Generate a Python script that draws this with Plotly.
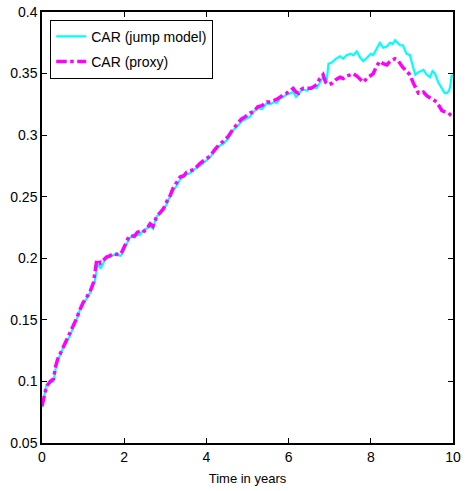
import plotly.graph_objects as go

t_jump = [0.00, 0.05, 0.11, 0.20, 0.28, 0.33, 0.38, 0.45, 0.52, 0.60, 0.68, 0.76, 0.84, 0.92, 1.00,
          1.08, 1.17, 1.25, 1.29, 1.33, 1.37, 1.42, 1.45, 1.52, 1.57, 1.65, 1.75, 1.82, 1.90, 1.94,
          2.00, 2.06, 2.12, 2.18, 2.25, 2.32, 2.38, 2.45, 2.55, 2.63, 2.70, 2.79, 2.87, 2.95, 3.05,
          3.12, 3.19, 3.28, 3.36, 3.45, 3.52, 3.60, 3.70, 3.84, 3.95, 4.09, 4.20, 4.30, 4.41, 4.53,
          4.65, 4.75, 4.85, 4.95, 5.06, 5.15, 5.25, 5.35, 5.47, 5.55, 5.65, 5.71, 5.80, 5.87, 5.95,
          6.05, 6.11, 6.18, 6.24, 6.30, 6.36, 6.45, 6.55, 6.68, 6.76, 6.84, 6.90, 6.93, 6.97, 7.05,
          7.15, 7.25, 7.33, 7.41, 7.50, 7.58, 7.66, 7.74, 7.82, 7.90, 8.00, 8.06, 8.14, 8.22, 8.30,
          8.39, 8.47, 8.53, 8.59, 8.65, 8.71, 8.78, 8.87, 8.95, 9.00, 9.08, 9.15, 9.22, 9.28, 9.36,
          9.44, 9.50, 9.56, 9.64, 9.70, 9.76, 9.80, 9.85, 9.90, 9.93, 9.97, 10.00]
car_jump = [0.079, 0.088, 0.097, 0.099, 0.100, 0.110, 0.117, 0.122, 0.128, 0.132, 0.137, 0.144, 0.150, 0.158, 0.163,
            0.167, 0.172, 0.178, 0.182, 0.192, 0.195, 0.192, 0.193, 0.198, 0.200, 0.201, 0.203, 0.204, 0.202, 0.203,
            0.207, 0.211, 0.216, 0.218, 0.217, 0.219, 0.219, 0.222, 0.224, 0.226, 0.224, 0.234, 0.236, 0.239, 0.245,
            0.251, 0.255, 0.259, 0.264, 0.266, 0.268, 0.269, 0.272, 0.275, 0.278, 0.282, 0.287, 0.291, 0.293, 0.297,
            0.304, 0.307, 0.311, 0.313, 0.315, 0.319, 0.322, 0.321, 0.326, 0.325, 0.327, 0.326, 0.330, 0.331, 0.333,
            0.334, 0.335, 0.331, 0.333, 0.336, 0.337, 0.336, 0.339, 0.338, 0.343, 0.347, 0.344, 0.345, 0.358, 0.359,
            0.362, 0.364, 0.362, 0.365, 0.366, 0.365, 0.368, 0.363, 0.360, 0.363, 0.366, 0.365, 0.370, 0.375, 0.371,
            0.372, 0.375, 0.374, 0.377, 0.375, 0.373, 0.373, 0.366, 0.365, 0.358, 0.349, 0.351, 0.352, 0.353, 0.349,
            0.347, 0.352, 0.350, 0.343, 0.340, 0.337, 0.334, 0.334, 0.336, 0.339, 0.349, 0.347]

t_proxy = [0.00, 0.05, 0.11, 0.20, 0.28, 0.33, 0.38, 0.45, 0.52, 0.60, 0.68, 0.76, 0.84, 0.92, 1.00,
           1.08, 1.17, 1.25, 1.29, 1.33, 1.37, 1.42, 1.45, 1.52, 1.57, 1.65, 1.75, 1.82, 1.90, 1.94,
           2.00, 2.06, 2.12, 2.18, 2.25, 2.32, 2.38, 2.45, 2.55, 2.63, 2.70, 2.79, 2.87, 2.95, 3.05,
           3.12, 3.19, 3.28, 3.36, 3.45, 3.52, 3.60, 3.70, 3.84, 3.95, 4.09, 4.20, 4.30, 4.41, 4.53,
           4.65, 4.75, 4.85, 4.95, 5.06, 5.15, 5.25, 5.35, 5.47, 5.55, 5.65, 5.71, 5.80, 5.87, 5.95,
           6.05, 6.11, 6.18, 6.24, 6.30, 6.36, 6.45, 6.55, 6.68, 6.76, 6.84, 6.90, 6.97, 7.05, 7.15,
           7.25, 7.33, 7.41, 7.50, 7.57, 7.66, 7.74, 7.82, 7.90, 8.00, 8.06, 8.14, 8.22, 8.30, 8.39,
           8.47, 8.53, 8.59, 8.65, 8.71, 8.78, 8.87, 8.95, 9.04, 9.10, 9.16, 9.22, 9.28, 9.36, 9.44,
           9.50, 9.60, 9.66, 9.73, 9.80, 9.89, 9.95, 10.00]
car_proxy = [0.080, 0.088, 0.096, 0.100, 0.102, 0.112, 0.118, 0.123, 0.128, 0.133, 0.138, 0.145, 0.151, 0.158, 0.164,
             0.168, 0.173, 0.180, 0.190, 0.198, 0.199, 0.196, 0.197, 0.200, 0.201, 0.202, 0.204, 0.203, 0.203, 0.205,
             0.209, 0.214, 0.218, 0.218, 0.218, 0.221, 0.222, 0.221, 0.224, 0.228, 0.226, 0.234, 0.237, 0.240, 0.247,
             0.251, 0.257, 0.262, 0.266, 0.267, 0.270, 0.271, 0.272, 0.277, 0.280, 0.283, 0.288, 0.292, 0.295, 0.299,
             0.305, 0.309, 0.313, 0.315, 0.318, 0.319, 0.323, 0.324, 0.327, 0.327, 0.328, 0.329, 0.331, 0.333, 0.334,
             0.336, 0.338, 0.335, 0.334, 0.337, 0.338, 0.338, 0.338, 0.341, 0.346, 0.349, 0.343, 0.341, 0.342, 0.345,
             0.347, 0.346, 0.348, 0.349, 0.350, 0.348, 0.345, 0.343, 0.346, 0.349, 0.350, 0.356, 0.360, 0.358, 0.357,
             0.360, 0.361, 0.362, 0.361, 0.358, 0.355, 0.352, 0.349, 0.342, 0.338, 0.334, 0.334, 0.335, 0.332, 0.330,
             0.329, 0.327, 0.324, 0.320, 0.319, 0.318, 0.316, 0.315]

x_ticks = [0, 2, 4, 6, 8, 10]
y_ticks = [0.05, 0.1, 0.15, 0.2, 0.25, 0.3, 0.35, 0.4]
y_labels = ["0.05", "0.1", "0.15", "0.2", "0.25", "0.3", "0.35", "0.4"]

FONT = "Liberation Sans, Arial"

fig = go.Figure()
fig.add_trace(go.Scatter(x=t_jump, y=car_jump, mode="lines", name="CAR (jump model)",
                         legendgroup="a", line=dict(color="#00FFFF", width=2.2)))
fig.add_trace(go.Scatter(x=t_proxy, y=car_proxy, mode="lines", name="CAR (proxy)",
                         legendgroup="b", line=dict(color="#FF00FF", width=3.5, dash="dashdot")))

axis_common = dict(showgrid=False, zeroline=False, showline=True, linecolor="black", linewidth=1.5,
                   mirror="ticks", ticks="inside", ticklen=5, tickcolor="black", automargin=False,
                   tickfont=dict(family=FONT, size=14, color="black"))
fig.update_xaxes(range=[0, 10], tickvals=x_ticks, ticktext=[str(v) for v in x_ticks],
                 title=dict(text="Time in years", font=dict(family=FONT, size=13, color="black"),
                            standoff=10), **axis_common)
fig.update_yaxes(range=[0.05, 0.4], tickvals=y_ticks, ticktext=y_labels, **axis_common)

fig.update_layout(
    width=466, height=491,
    margin=dict(l=42, r=13, t=12, b=48),
    plot_bgcolor="white", paper_bgcolor="white",
    showlegend=True,
    legend=dict(x=0.02, y=0.982, xanchor="left", yanchor="top",
                bordercolor="black", borderwidth=1, bgcolor="white",
                font=dict(family=FONT, size=14, color="black"),
                traceorder="grouped", tracegroupgap=4),
)

fig.write_html("out.html")
